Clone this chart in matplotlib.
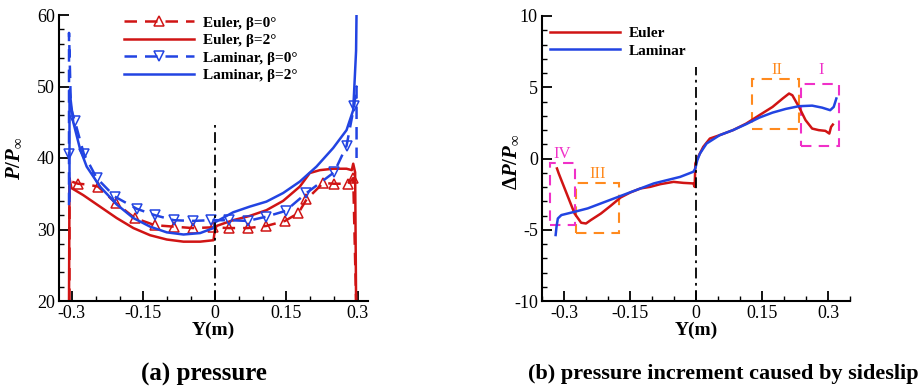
import matplotlib
matplotlib.use("Agg")
import matplotlib.pyplot as plt
from matplotlib.patches import Rectangle
from matplotlib.ticker import MultipleLocator

plt.rcParams['font.family'] = ['Liberation Serif', 'DejaVu Serif']
plt.rcParams['mathtext.fontset'] = 'custom'
plt.rcParams['mathtext.it'] = 'Liberation Serif:italic:bold'
plt.rcParams['mathtext.rm'] = 'Liberation Serif:bold'
plt.rcParams['mathtext.bf'] = 'Liberation Serif:bold'
plt.rcParams['axes.unicode_minus'] = False

RED = '#d01414'
BLUE = '#2244e2'
ORANGE = '#ff8a1e'
MAGENTA = '#f030c8'

# ---------------- (a) pressure ----------------
euler0_y = [-0.305, -0.305, -0.287, -0.268, -0.245, -0.208, -0.168, -0.126, -0.086, -0.047,
            -0.004, 0.030, 0.069, 0.108, 0.147, 0.175, 0.192, 0.227, 0.250, 0.280, 0.290, 0.296]
euler0_p = [20.0, 36.8, 36.4, 36.3, 36.0, 33.7, 31.6, 30.6, 30.4, 30.2,
            30.3, 30.2, 30.2, 30.5, 31.2, 32.3, 34.2, 36.5, 36.4, 36.4, 37.2, 20.0]
euler0_marks = [2, 4, 5, 6, 7, 8, 9, 10, 11, 12, 13, 14, 15, 16, 17, 18, 19, 20]

euler2_y = [-0.306, -0.305, -0.301, -0.276, -0.241, -0.206, -0.171, -0.136, -0.101, -0.066,
            -0.031, -0.003, 0.0, 0.0035, 0.038, 0.073, 0.108, 0.143, 0.178, 0.199,
            0.220, 0.248, 0.276, 0.287, 0.290, 0.294, 0.296]
euler2_p = [20.0, 37.2, 35.8, 34.8, 33.2, 31.6, 30.2, 29.2, 28.6, 28.3,
            28.3, 28.5, 30.0, 30.5, 31.3, 31.9, 32.7, 34.0, 36.0, 37.9,
            38.3, 38.5, 38.5, 38.3, 39.2, 38.0, 20.0]

lam0_y = [-0.306, -0.306, -0.306, -0.302, -0.294, -0.275, -0.248, -0.210, -0.164, -0.126,
          -0.086, -0.047, -0.009, 0.030, 0.069, 0.108, 0.148, 0.192, 0.250, 0.276,
          0.292, 0.297, 0.297]
lam0_p = [33.4, 40.6, 57.5, 47.0, 45.2, 40.6, 37.2, 34.6, 32.9, 32.0,
          31.3, 31.2, 31.3, 31.3, 31.2, 31.8, 32.6, 35.1, 38.0, 41.7,
          47.3, 50.0, 40.0]
lam0_marks = [1, 4, 5, 6, 7, 8, 9, 10, 11, 12, 13, 14, 15, 16, 17, 18, 19, 20]

lam2_y = [-0.305, -0.305, -0.297, -0.283, -0.269, -0.241, -0.206, -0.171, -0.136, -0.101,
          -0.066, -0.031, -0.003, 0.0, 0.038, 0.073, 0.108, 0.143, 0.178, 0.213,
          0.248, 0.276, 0.290, 0.296, 0.297]
lam2_p = [34.0, 49.5, 45.0, 41.3, 38.8, 36.0, 33.5, 31.6, 30.4, 29.6,
          29.3, 29.5, 30.2, 31.0, 32.4, 33.2, 33.9, 35.1, 36.7, 38.8,
          41.4, 43.9, 46.7, 55.0, 60.5]

# ---------------- (b) pressure increment ----------------
deuler_y = [-0.316, -0.312, -0.306, -0.291, -0.276, -0.261, -0.250, -0.239, -0.216, -0.194,
            -0.171, -0.149, -0.126, -0.104, -0.081, -0.051, -0.029, -0.006, -0.003, -0.0015,
            0.005, 0.0165, 0.0315, 0.054, 0.084, 0.114, 0.144, 0.174, 0.197, 0.2115,
            0.219, 0.234, 0.249, 0.264, 0.279, 0.294, 0.303, 0.307, 0.311]
deuler_p = [-0.70, -1.05, -1.52, -2.69, -3.86, -4.51, -4.56, -4.32, -3.86, -3.32,
            -2.73, -2.38, -2.10, -1.99, -1.80, -1.64, -1.71, -1.75, -1.99, -0.35,
            0.12, 0.82, 1.40, 1.64, 1.99, 2.45, 3.04, 3.62, 4.21, 4.56,
            4.44, 3.62, 2.69, 2.10, 1.99, 1.94, 1.75, 2.22, 2.38]

dlam_y = [-0.319, -0.317, -0.314, -0.306, -0.276, -0.246, -0.216, -0.186, -0.156, -0.126,
          -0.096, -0.066, -0.036, -0.006, -0.0015, 0.003, 0.009, 0.024, 0.054, 0.084,
          0.114, 0.144, 0.174, 0.204, 0.234, 0.264, 0.2865, 0.305, 0.313, 0.319]
dlam_p = [-5.37, -4.79, -4.21, -3.97, -3.74, -3.50, -3.15, -2.80, -2.45, -2.10,
          -1.75, -1.52, -1.29, -0.93, -0.70, -0.12, 0.35, 1.05, 1.64, 1.99,
          2.41, 2.87, 3.22, 3.48, 3.67, 3.71, 3.57, 3.39, 3.62, 4.21]

# region boxes
region_names = ['I', 'II', 'III', 'IV']
region_x0 = [0.238, 0.1275, -0.272, -0.331]
region_x1 = [0.3256, 0.234, -0.176, -0.276]
region_y0 = [0.89, 2.10, -5.26, -4.67]
region_y1 = [5.26, 5.56, -1.71, -0.30]
region_colors = [MAGENTA, ORANGE, ORANGE, MAGENTA]
region_lx = [0.284, 0.183, -0.2235, -0.3045]
region_ly = [6.2, 6.2, -1.1, 0.35]

fig = plt.figure(figsize=(9.21, 3.91), dpi=100)
W, H = 921, 391
axa = fig.add_axes([59 / W, 1 - 301 / H, (368 - 59) / W, (301 - 15) / H])
axb = fig.add_axes([542 / W, 1 - 301 / H, (850 - 542) / W, (301 - 16) / H])

lw = 1.8
dash = (0, (5, 3.2))
axa.plot(euler0_y, euler0_p, color=RED, lw=lw, ls=dash, marker='^', markersize=6.5,
         markerfacecolor='none', markeredgewidth=1.1, markevery=euler0_marks,
         label='Euler, β=0°')
axa.plot(euler2_y, euler2_p, color=RED, lw=lw, label='Euler, β=2°')
axa.plot(lam0_y, lam0_p, color=BLUE, lw=lw, ls=dash, marker='v', markersize=6.5,
         markerfacecolor='none', markeredgewidth=1.1, markevery=lam0_marks,
         label='Laminar, β=0°')
axa.plot(lam2_y, lam2_p, color=BLUE, lw=lw, label='Laminar, β=2°')
axa.plot([0, 0], [20, 44.6], color='black', lw=1.3, ls=(0, (6, 2.5, 1.5, 2.5)))

axa.set_xlim(-0.327, 0.321)
axa.set_ylim(20, 60)
axa.set_xticks([-0.3, -0.15, 0, 0.15, 0.3])
axa.set_xticklabels(['-0.3', '-0.15', '0', '0.15', '0.3'])
axa.xaxis.set_minor_locator(MultipleLocator(0.05))
axa.yaxis.set_major_locator(MultipleLocator(10))
axa.yaxis.set_minor_locator(MultipleLocator(2))
axa.set_ylabel(r'$P/P_{\infty}$', fontsize=15)
axa.yaxis.set_label_coords(-0.112, 0.5)
axa.set_xlabel('Y(m)', fontsize=14, fontweight='bold', labelpad=0)

axa.legend(loc='upper left', bbox_to_anchor=(0.165, 1.045), frameon=False,
           prop={'weight': 'bold', 'size': 11}, handlelength=4.6, handletextpad=0.6,
           labelspacing=0.25, numpoints=1)

axb.plot(deuler_y, deuler_p, color=RED, lw=lw, label='Euler')
axb.plot(dlam_y, dlam_p, color=BLUE, lw=lw, label='Laminar')
axb.plot([0, 0], [-10, 6.4], color='black', lw=1.3, ls=(0, (6, 2.5, 1.5, 2.5)))
for name, x0, x1, y0, y1, c, lx, ly in zip(region_names, region_x0, region_x1, region_y0,
                                            region_y1, region_colors, region_lx, region_ly):
    axb.add_patch(Rectangle((x0, y0), x1 - x0, y1 - y0, fill=False, edgecolor=c,
                            lw=1.5, ls=(0, (5, 3.5))))
    axb.text(lx, ly, name, color=c, fontsize=12, ha='center', va='center')

axb.set_xlim(-0.35, 0.35)
axb.set_ylim(-10, 10)
axb.set_xticks([-0.3, -0.15, 0, 0.15, 0.3])
axb.set_xticklabels(['-0.3', '-0.15', '0', '0.15', '0.3'])
axb.xaxis.set_minor_locator(MultipleLocator(0.05))
axb.yaxis.set_major_locator(MultipleLocator(5))
axb.yaxis.set_minor_locator(MultipleLocator(1))
axb.set_ylabel(r'$\Delta P/P_{\infty}$', fontsize=15)
axb.yaxis.set_label_coords(-0.066, 0.49)
axb.set_xlabel('Y(m)', fontsize=14, fontweight='bold', labelpad=0)
axb.legend(loc='upper left', bbox_to_anchor=(-0.02, 1.012), frameon=False,
           prop={'weight': 'bold', 'size': 11}, handlelength=4.6, handletextpad=0.6,
           labelspacing=0.25)

for ax in (axa, axb):
    for s in ('top', 'right'):
        ax.spines[s].set_visible(False)
    for s in ('left', 'bottom'):
        ax.spines[s].set_linewidth(1.5)
    ax.tick_params(which='major', direction='in', length=7, width=1.3, labelsize=13, pad=3)
    ax.tick_params(which='minor', direction='in', length=3.5, width=1.0)

fig.text(203.5 / W, 1 - 374 / H, '(a) pressure', fontsize=18, fontweight='bold',
         ha='center', va='center')
fig.text(723 / W, 1 - 374 / H, '(b) pressure increment caused by sideslip', fontsize=16,
         fontweight='bold', ha='center', va='center')

fig.savefig('out.png', dpi=100)
